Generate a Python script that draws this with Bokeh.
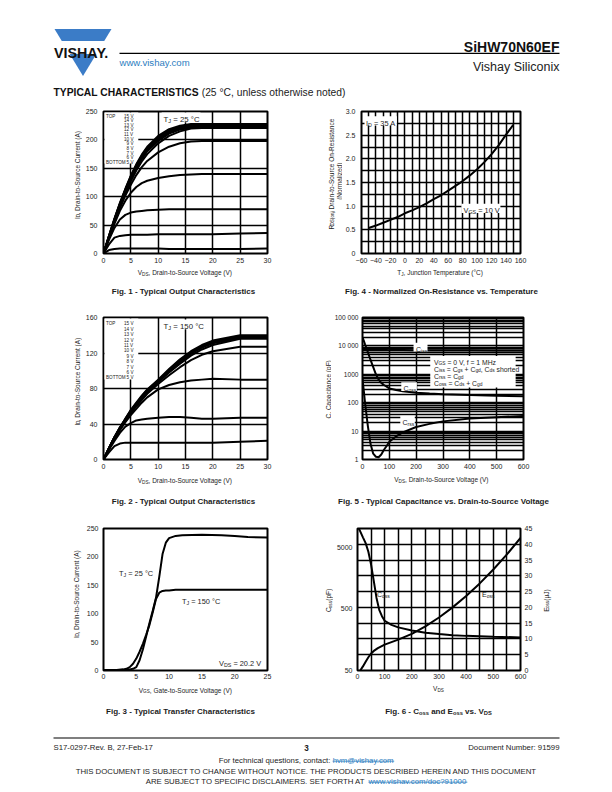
import math
import re
from bokeh.plotting import figure
from bokeh.layouts import column, row
from bokeh.models import (Range1d, Label, BoxAnnotation, FixedTicker, LogAxis, LogScale,
                          CustomJSTickFormatter)
from bokeh.core.properties import value
from bokeh.embed import file_html
from bokeh.resources import INLINE

# ======================= DATA =======================
vgs_legend = ["15 V", "14 V", "13 V", "12 V", "11 V", "10 V", "9 V", "8 V", "7 V", "6 V", "5 V"]

# Fig. 1 - output characteristics, TJ = 25 C
vds_fig1 = [0, 1, 2, 3, 4, 5, 6, 7, 8, 10, 12, 14, 16, 18, 20, 25, 30]
id1_15v = [0, 31, 61, 89, 114, 137, 157, 174, 188, 207, 219, 225, 228, 228, 228, 228, 228]
id1_14v = [0, 31, 61, 88, 113, 136, 156, 172, 186, 205, 217, 223, 226, 227, 227, 227, 227]
id1_13v = [0, 30, 60, 87, 112, 135, 154, 170, 184, 203, 215, 221, 225, 226, 226, 226, 226]
id1_12v = [0, 30, 59, 86, 111, 133, 152, 168, 182, 201, 213, 220, 224, 225, 225, 225, 225]
id1_11v = [0, 30, 58, 85, 109, 131, 150, 166, 180, 198, 211, 218, 222, 223, 223, 223, 223]
id1_10v = [0, 29, 57, 83, 106, 127, 146, 162, 175, 194, 207, 215, 220, 221, 221, 221, 221]
id1_9v = [0, 28, 55, 80, 102, 121, 138, 152, 163, 178, 188, 194, 197, 198, 198, 198, 198]
id1_8v = [0, 27, 52, 75, 93, 107, 117, 124, 128, 133, 136, 138, 139, 140, 140, 140, 140]
id1_7v = [0, 24, 45, 60, 68, 72, 74, 75, 76, 77, 78, 78, 78, 78, 78, 78, 78]
id1_6v = [0, 16, 28, 31, 32, 33, 33, 33, 33, 34, 34, 34, 34, 34, 34, 35, 36]
id1_5v = [0, 6, 8, 9, 9, 9, 9, 9, 9, 9, 8, 8, 8, 8, 8, 8, 9]
fig1_xticks = [0, 5, 10, 15, 20, 25, 30]
fig1_yticks = [0, 50, 100, 150, 200, 250]

# Fig. 2 - output characteristics, TJ = 150 C
vds_fig2 = [0, 1, 2, 3, 4, 5, 6, 7, 8, 10, 12, 14, 16, 18, 20, 25, 30]
id2_15v = [0, 13, 25, 36, 46, 56, 64, 72, 79, 90, 102, 113, 122, 129, 134, 140, 140]
id2_14v = [0, 13, 25, 36, 46, 55, 63, 71, 78, 89, 101, 112, 121, 128, 133, 139, 139]
id2_13v = [0, 13, 25, 36, 45, 55, 63, 71, 78, 89, 100, 111, 120, 127, 132, 138, 138]
id2_12v = [0, 13, 25, 35, 45, 54, 62, 70, 77, 88, 99, 110, 119, 126, 131, 137, 137]
id2_11v = [0, 12, 24, 35, 44, 53, 61, 69, 76, 87, 98, 108, 117, 124, 129, 136, 136]
id2_10v = [0, 12, 24, 34, 43, 52, 60, 67, 74, 85, 95, 104, 112, 118, 122, 127, 127]
id2_9v = [0, 12, 23, 33, 42, 50, 57, 64, 70, 79, 84, 87, 89, 90, 91, 90, 90]
id2_8v = [0, 11, 21, 30, 37, 41, 44, 45, 46, 47, 48, 48, 47, 46, 46, 47, 47]
id2_7v = [0, 8, 15, 18, 19, 19, 19, 19, 19, 19, 19, 19, 19, 19, 19, 20, 21]
fig2_xticks = [0, 5, 10, 15, 20, 25, 30]
fig2_yticks = [0, 40, 80, 120, 160]

# Fig. 3 - transfer characteristics
vgs_fig3 = [0, 1, 2, 3, 3.5, 4, 4.5, 5, 5.5, 6, 6.5, 7, 7.5, 8, 8.5, 9, 9.5, 10, 11, 12, 15, 18, 20, 22, 25]
id3_25c = [1, 1, 1, 1, 1, 2, 3, 6, 18, 37, 60, 83, 105, 128, 165, 205, 225, 233, 237, 238, 239, 238, 237, 235, 234]
id3_150c = [1, 1, 1, 2, 3, 6, 12, 21, 33, 47, 63, 80, 102, 126, 137, 140, 141, 141, 142, 142, 142, 142, 142, 142, 142]
fig3_xticks = [0, 5, 10, 15, 20, 25]
fig3_yticks = [0, 50, 100, 150, 200, 250]

# Fig. 4 - normalized on-resistance vs temperature
tj_fig4 = [-50, -40, -30, -20, -10, 0, 10, 20, 30, 40, 50, 60, 70, 80, 90, 100, 110, 120, 130, 140, 150]
rds_fig4 = [0.54, 0.59, 0.65, 0.71, 0.77, 0.85, 0.91, 0.98, 1.06, 1.15, 1.23, 1.33, 1.43, 1.53,
            1.65, 1.78, 1.93, 2.10, 2.29, 2.51, 2.72]
fig4_xticks = [-60, -40, -20, 0, 20, 40, 60, 80, 100, 120, 140, 160]
fig4_xminor = [-50, -30, -10, 10, 30, 50, 70, 90, 110, 130, 150]
fig4_yticks = [0, 0.5, 1.0, 1.5, 2.0, 2.5, 3.0]
fig4_yminor = [0.25, 0.75, 1.25, 1.75, 2.25, 2.75]

# Fig. 5 - capacitance vs VDS
vds_fig5 = [0, 5, 10, 20, 30, 40, 50, 60, 70, 80, 90, 100, 125, 150, 200, 250, 300, 400, 500, 600]
ciss_fig5 = [7800, 7700, 7600, 7500, 7400, 7300, 7300, 7200, 7200, 7200, 7200, 7100, 7100, 7100,
             7000, 7000, 7000, 7000, 6900, 6900]
coss_fig5 = [20000, 15000, 11000, 6000, 3200, 1800, 1000, 650, 500, 420, 370, 320, 280, 255, 225,
             210, 200, 185, 175, 168]
crss_fig5 = [700, 250, 90, 15, 3.5, 1.6, 1.25, 1.2, 1.5, 2.2, 3.0, 4.2, 6.5, 9, 14, 18, 22, 28, 31, 34]
fig5_xticks = [0, 100, 200, 300, 400, 500, 600]
fig5_yticks = [1, 10, 100, 1000, 10000, 100000]
fig5_yminor = [m * d for d in [1, 10, 100, 1000, 10000] for m in [2, 3, 4, 5, 6, 7, 8, 9]]

# Fig. 6 - Coss and Eoss vs VDS
vds_fig6_c = [5, 10, 20, 30, 40, 50, 60, 70, 80, 90, 100, 125, 150, 200, 250, 300, 350, 400, 500, 600]
coss_fig6 = [10000, 9000, 7200, 5800, 4200, 2600, 1400, 750, 480, 380, 320, 275, 250, 222, 205, 195,
             187, 182, 176, 172]
vds_fig6_e = [10, 20, 30, 40, 50, 60, 75, 100, 150, 200, 250, 300, 350, 400, 450, 500, 550, 600]
eoss_fig6 = [0, 1.3, 2.8, 4.2, 5.4, 6.2, 7.1, 8.2, 9.8, 11.6, 14.0, 16.8, 20.0, 23.6, 27.6, 32.0, 36.8, 42.0]
fig6_xticks = [0, 100, 200, 300, 400, 500, 600]
fig6_xminor = [50, 150, 250, 350, 450, 550]
fig6_eticks = [0, 5, 10, 15, 20, 25, 30, 35, 40, 45]
fig6_cticks = [50, 500, 5000]

# page texts
part_number = "SiHW70N60EF"
company = "Vishay Siliconix"
website = "www.vishay.com"
section_bold = "TYPICAL CHARACTERISTICS"
section_rest = "(25 °C, unless otherwise noted)"
captions = [
    "Fig. 1 - Typical Output Characteristics",
    "Fig. 4 - Normalized On-Resistance vs. Temperature",
    "Fig. 2 - Typical Output Characteristics",
    "Fig. 5 - Typical Capacitance vs. Drain-to-Source Voltage",
    "Fig. 3 - Typical Transfer Characteristics",
    "Fig. 6 - C_{oss} and E_{oss} vs. V_{DS}",
]
footer_left = "S17-0297-Rev. B, 27-Feb-17"
page_no = "3"
footer_right = "Document Number: 91599"
contact_txt = "For technical questions, contact: "
contact_mail = "hvm@vishay.com"
disclaimer1 = "THIS DOCUMENT IS SUBJECT TO CHANGE WITHOUT NOTICE. THE PRODUCTS DESCRIBED HEREIN AND THIS DOCUMENT"
disclaimer2 = "ARE SUBJECT TO SPECIFIC DISCLAIMERS, SET FORTH AT "
disclaimer_link = "www.vishay.com/doc?91000"

# ======================= STYLE / HELPERS =======================
FONT = "Liberation Sans"
INK = "#1c1c1c"
LOGO_BLUE = "#3b7cc7"
LINK = "#2c7dc0"

REG = {}
for ch, w in zip("ABCDEFGHIJKLMNOPQRSTUVWXYZ",
                 [667, 667, 722, 722, 667, 611, 778, 722, 278, 500, 667, 556, 833, 722, 778, 667, 778,
                  722, 667, 611, 722, 667, 944, 667, 667, 611]):
    REG[ch] = w
for ch, w in zip("abcdefghijklmnopqrstuvwxyz",
                 [556, 556, 500, 556, 556, 278, 556, 556, 222, 222, 500, 222, 833, 556, 556, 556, 556,
                  333, 500, 278, 556, 500, 722, 500, 500, 500]):
    REG[ch] = w
for ch in "0123456789":
    REG[ch] = 556
REG.update({" ": 278, ".": 278, ",": 278, "-": 333, "(": 333, ")": 333, "=": 584, "+": 584,
            ":": 278, "/": 278, "?": 556, "@": 1015, "°": 400, "µ": 556})
BOLD = dict(REG)
for ch, w in zip("ABCDEFGHIJKLMNOPQRSTUVWXYZ",
                 [722, 722, 722, 722, 667, 611, 778, 722, 278, 556, 722, 611, 833, 722, 778, 667, 778,
                  722, 667, 611, 722, 667, 944, 667, 667, 611]):
    BOLD[ch] = w
for ch, w in zip("abcdefghijklmnopqrstuvwxyz",
                 [556, 611, 556, 611, 556, 333, 611, 611, 278, 278, 556, 278, 889, 611, 611, 611, 611,
                  389, 556, 333, 611, 556, 778, 556, 556, 500]):
    BOLD[ch] = w
BOLD[":"] = 333


def tw(s, size, bold=False):
    t = BOLD if bold else REG
    return sum(t.get(c, 556) for c in s) * size / 1000.0


def parse(s):
    parts, i = [], 0
    for m in re.finditer(r"_\{([^}]*)\}", s):
        if m.start() > i:
            parts.append((s[i:m.start()], False))
        parts.append((m.group(1), True))
        i = m.end()
    if i < len(s):
        parts.append((s[i:], False))
    return parts


def runs(s, size, bold):
    out, cur = [], 0.0
    for t, sub in parse(s):
        fs = size * 0.72 if sub else size
        dn = size * 0.25 if sub else 0.0
        lead = len(t) - len(t.lstrip(" "))
        out.append((cur + tw(" " * lead, fs, bold), dn, t.strip(" "), fs))
        cur += tw(t, fs, bold)
    return out, cur


def chart(ox, oy, w, h, frame, xr, yr, **kw):
    l, t, r, b = frame
    p = figure(width=w, height=h, x_range=Range1d(*xr), y_range=Range1d(*yr),
               toolbar_location=None, output_backend="svg", title=None,
               min_border_left=int(l - ox), min_border_right=int(ox + w - r),
               min_border_top=int(t - oy), min_border_bottom=int(oy + h - b), **kw)
    p.outline_line_color = "black"
    p.outline_line_width = 2
    p.background_fill_color = "white"
    p.border_fill_color = "white"
    return dict(fig=p, frame=frame, xr=xr, yr=yr, ylog=(kw.get("y_axis_type") == "log"))


def style_axis(ax, stand, size="7px"):
    ax.axis_line_color = None
    ax.major_tick_line_color = None
    ax.minor_tick_line_color = None
    ax.major_tick_in = 0
    ax.major_tick_out = 0
    ax.minor_tick_in = 0
    ax.minor_tick_out = 0
    ax.major_label_text_font = FONT
    ax.major_label_text_font_size = size
    ax.major_label_text_color = INK
    ax.major_label_standoff = stand


def style_grid(p, minor=False):
    p.grid.grid_line_color = "black"
    p.grid.grid_line_width = 1.5
    p.grid.grid_line_alpha = 1
    if minor:
        p.grid.minor_grid_line_color = "black"
        p.grid.minor_grid_line_width = 1.5
        p.grid.minor_grid_line_alpha = 1


def to_data(c, X, Y):
    l, t, r, b = c["frame"]
    x0, x1 = c["xr"]
    y0, y1 = c["yr"]
    x = x0 + (X - l) / (r - l) * (x1 - x0)
    f = (b - Y) / (b - t)
    if c["ylog"]:
        y = 10 ** (math.log10(y0) + f * (math.log10(y1) - math.log10(y0)))
    else:
        y = y0 + f * (y1 - y0)
    return x, y


def white_box(c, X0, Y0, X1, Y1, level="underlay"):
    xa, ya = to_data(c, X0, Y1)
    xb, yb = to_data(c, X1, Y0)
    c["fig"].add_layout(BoxAnnotation(left=xa, right=xb, bottom=ya, top=yb, fill_color="white",
                                      fill_alpha=1, line_color=None, level=level))


def clabel(c, X, Y, s, size, align="left", bold=False, color=INK, bg=False, bg_level="underlay"):
    """Text inside a chart frame (page coordinates X, Y = baseline start)."""
    p = c["fig"]
    l, t, r, b = c["frame"]
    items, total = runs(s, size, bold)
    start = {"left": 0.0, "center": -total / 2, "right": -total}[align]
    if bg:
        white_box(c, X + start - 1.5, Y - size * 0.9, X + start + total + 1.5, Y + size * 0.35, bg_level)
    for off, dn, txt, fs in items:
        if not txt:
            continue
        p.add_layout(Label(x=X + start + off - l, y=b - (Y + dn), x_units="screen", y_units="screen",
                           text=txt, text_font=FONT, text_font_size=f"{fs:.2f}px",
                           text_font_style="bold" if bold else "normal", text_color=color,
                           text_align="left", text_baseline="alphabetic"))


def strip(x0, x1, y0, y1):
    p = figure(width=int(x1 - x0), height=int(y1 - y0), x_range=Range1d(x0, x1), y_range=Range1d(y1, y0),
               toolbar_location=None, output_backend="svg", title=None, min_border=0,
               x_axis_location=None, y_axis_location=None)
    p.grid.visible = False
    p.outline_line_color = None
    p.background_fill_color = "white"
    p.border_fill_color = "white"
    return p


def pdraw(p, x, y, txt, fs, bold, color, angle=0.0, align="left"):
    p.text(x=[x], y=[y], text=[txt], text_font=value(FONT), text_font_size=f"{fs:.2f}px",
           text_font_style="bold" if bold else "normal", text_color=color, angle=angle,
           text_align=align, text_baseline="alphabetic")


def ptext(p, X, Y, s, size, align="left", bold=False, color=INK, vertical=False):
    items, total = runs(s, size, bold)
    ang = math.pi / 2 if vertical else 0.0
    if len(items) == 1 and items[0][0] == 0:
        pdraw(p, X, Y, items[0][2], size, bold, color, ang, align)
        return
    start = {"left": 0.0, "center": -total / 2, "right": -total}[align]
    for off, dn, txt, fs in items:
        if not txt:
            continue
        a = start + off
        if vertical:
            pdraw(p, X + dn, Y - a, txt, fs, bold, color, ang)
        else:
            pdraw(p, X + a, Y + dn, txt, fs, bold, color)


def pline(p, X, Y, segs, size, align="center"):
    total = sum(tw(t, size, b) for t, col, b, u in segs)
    x = {"left": X, "center": X - total / 2, "right": X - total}[align]
    for t, col, b, u in segs:
        w = tw(t, size, b)
        pdraw(p, x, Y, t.strip(" "), size, b, col)
        if u:
            p.line([x, x + tw(t.rstrip(" "), size, b)], [Y + 1.2, Y + 1.2], line_color=col, line_width=0.8)
        x += w


def legend_block(c, xl, xr, y0, dy, size=4.6):
    n = len(vgs_legend)
    for i, lab in enumerate(vgs_legend):
        y = y0 + i * dy
        if i == 0:
            clabel(c, xl, y, "TOP", size)
        if i == n - 1:
            clabel(c, xl, y, "BOTTOM", size)
        clabel(c, xr, y, lab, size, align="right")


# ======================= HEADER (page y 0..100) =======================
hd = strip(0, 604, 0, 100)
hd.patch(x=[54, 111, 82.5], y=[28.5, 28.5, 75.5], fill_color=LOGO_BLUE, line_color=None)
hd.quad(left=[50], right=[115], top=[40.5], bottom=[53.5], fill_color="white", line_color=None)
pdraw(hd, 53.5, 52.3, "VISHAY.", 14.3, True, "#111111")
hd.line([119, 559], [52.8, 52.8], line_color="black", line_width=1.3)
ptext(hd, 559, 46.8, part_number, 14, align="right", bold=True, color="#111111")
ptext(hd, 559, 66.5, company, 12.5, align="right", color="#222222")
ptext(hd, 119, 62.3, website, 9.6, color=LINK)
pdraw(hd, 53, 91.5, section_bold, 10.3, True, "#111111")
pdraw(hd, 53 + tw(section_bold + " ", 10.3, True), 91.5, section_rest, 10.3, False, "#222222")

# ======================= ROW 1 (page y 100..267) =======================
L1 = strip(0, 82, 100, 267)
ptext(L1, 76.5, 182, "I_{D}, Drain-to-Source Current (A)", 6.5, align="center", vertical=True)

c1 = chart(82, 100, 224, 167, (102, 111, 267, 253), (0, 30), (0, 250))
p1 = c1["fig"]
p1.xaxis.ticker = FixedTicker(ticks=fig1_xticks)
p1.yaxis.ticker = FixedTicker(ticks=fig1_yticks)
for ax in p1.xaxis:
    style_axis(ax, 4)
for ax in p1.yaxis:
    style_axis(ax, 6)
style_grid(p1)
white_box(c1, 103, 112, 137, 163)
for ys in [id1_5v, id1_6v, id1_7v, id1_8v, id1_9v, id1_10v, id1_11v, id1_12v, id1_13v, id1_14v, id1_15v]:
    p1.line(vds_fig1, ys, line_color="black", line_width=2)
legend_block(c1, 104.5, 132, 115.5, 4.65)
clabel(c1, 162, 119, "T_{J} = 25 °C", 7.8, bg=True)

M1 = strip(306, 342, 100, 267)
ptext(M1, 330.5, 182, "R_{DS(on)}, Drain-to-Source On-Resistance", 6.5, align="center", vertical=True)
ptext(M1, 338.5, 182, "(Normalized)", 6.5, align="center", vertical=True)

c4 = chart(342, 100, 262, 167, (360, 111, 520, 253), (-60, 160), (0, 3.0))
p4 = c4["fig"]
p4.xaxis.ticker = FixedTicker(ticks=fig4_xticks, minor_ticks=fig4_xminor)
p4.yaxis.ticker = FixedTicker(ticks=fig4_yticks, minor_ticks=fig4_yminor)
p4.yaxis.formatter = CustomJSTickFormatter(code="return tick == 0 ? '0' : tick.toFixed(1);")
for ax in p4.xaxis:
    style_axis(ax, 4)
for ax in p4.yaxis:
    style_axis(ax, 6)
style_grid(p4, minor=True)
p4.line(tj_fig4, rds_fig4, line_color="black", line_width=2)
clabel(c4, 364.5, 122.5, "I_{D} = 35 A", 7.4, bg=True)
clabel(c4, 462, 210, "V_{GS} = 10 V", 7.4, bg=True)

U1 = strip(0, 604, 267, 300)
ptext(U1, 184.5, 272, "V_{DS}, Drain-to-Source Voltage (V)", 6.5, align="center")
ptext(U1, 440, 272, "T_{J}, Junction Temperature (°C)", 6.5, align="center")
ptext(U1, 183, 291, captions[0], 8, align="center", bold=True)
ptext(U1, 441, 291, captions[1], 8, align="center", bold=True)

# ======================= ROW 2 (page y 300..474) =======================
L2 = strip(0, 82, 300, 474)
ptext(L2, 76.5, 388, "I_{D}, Drain-to-Source Current (A)", 6.5, align="center", vertical=True)

c2 = chart(82, 300, 224, 174, (102, 317, 267, 459), (0, 30), (0, 160))
p2 = c2["fig"]
p2.xaxis.ticker = FixedTicker(ticks=fig2_xticks)
p2.yaxis.ticker = FixedTicker(ticks=fig2_yticks)
for ax in p2.xaxis:
    style_axis(ax, 4)
for ax in p2.yaxis:
    style_axis(ax, 6)
style_grid(p2)
white_box(c2, 103, 318, 137, 379)
for ys in [id2_7v, id2_8v, id2_9v, id2_10v, id2_11v, id2_12v, id2_13v, id2_14v, id2_15v]:
    p2.line(vds_fig2, ys, line_color="black", line_width=2)
legend_block(c2, 104.5, 132, 323.3, 5.4)
clabel(c2, 162, 326, "T_{J} = 150 °C", 7.8, bg=True)

M2 = strip(306, 331, 300, 474)
ptext(M2, 327.8, 388, "C, Capacitance (pF)", 6.5, align="center", vertical=True)

c5 = chart(331, 300, 273, 174, (359, 317, 523, 459), (0, 600), (1, 100000), y_axis_type="log")
p5 = c5["fig"]
p5.xaxis.ticker = FixedTicker(ticks=fig5_xticks)
p5.yaxis.ticker = FixedTicker(ticks=fig5_yticks, minor_ticks=fig5_yminor)
p5.yaxis.formatter = CustomJSTickFormatter(
    code="var s = Math.round(tick).toString(); return s.length > 4 ? s.slice(0, s.length - 3) + ' ' + s.slice(-3) : s;")
for ax in p5.xaxis:
    style_axis(ax, 4)
for ax in p5.yaxis:
    style_axis(ax, 4, "6.6px")
style_grid(p5, minor=True)
white_box(c5, 428, 355.5, 515, 387)
p5.line(vds_fig5, ciss_fig5, line_color="black", line_width=2)
p5.line(vds_fig5, coss_fig5, line_color="black", line_width=2)
p5.line(vds_fig5, crss_fig5, line_color="black", line_width=2)
clabel(c5, 412.5, 348.5, "C_{iss}", 7, bg=True, bg_level="annotation")
clabel(c5, 400, 388, "C_{oss}", 7, bg=True, bg_level="annotation")
clabel(c5, 399, 421.5, "C_{rss}", 7, bg=True, bg_level="annotation")
legend5 = ["V_{GS} = 0 V, f = 1 MHz", "C_{iss} = C_{gs} + C_{gd}, C_{ds} shorted",
           "C_{rss} = C_{gd}", "C_{oss} = C_{ds} + C_{gd}"]
for i, s in enumerate(legend5):
    clabel(c5, 430.5, 361.5 + i * 7.0, s, 6.8)

U2 = strip(0, 604, 474, 510)
ptext(U2, 184.5, 480, "V_{DS}, Drain-to-Source Voltage (V)", 6.5, align="center")
ptext(U2, 441, 479, "V_{DS}, Drain-to-Source Voltage (V)", 6.5, align="center")
ptext(U2, 183, 500.5, captions[2], 8, align="center", bold=True)
ptext(U2, 443, 500.5, captions[3], 8, align="center", bold=True)

# ======================= ROW 3 (page y 510..683) =======================
L3 = strip(0, 82, 510, 683)
ptext(L3, 75.8, 599, "I_{D}, Drain-to-Source Current (A)", 6.5, align="center", vertical=True)

c3 = chart(82, 510, 224, 173, (103, 528, 267, 670), (0, 25), (0, 250))
p3 = c3["fig"]
p3.xaxis.ticker = FixedTicker(ticks=fig3_xticks)
p3.yaxis.ticker = FixedTicker(ticks=fig3_yticks)
for ax in p3.xaxis:
    style_axis(ax, 3)
for ax in p3.yaxis:
    style_axis(ax, 5)
p3.grid.visible = False
p3.line(vgs_fig3, id3_25c, line_color="black", line_width=2)
p3.line(vgs_fig3, id3_150c, line_color="black", line_width=2)
clabel(c3, 118.5, 572.5, "T_{J} = 25 °C", 7.4)
clabel(c3, 181.5, 600.5, "T_{J} = 150 °C", 7.4)
clabel(c3, 218.5, 662.5, "V_{DS} = 20.2 V", 7.4)

M3 = strip(306, 333, 510, 683)
ptext(M3, 328.3, 599, "C_{oss} (pF)", 6.5, align="center", vertical=True)

c6 = chart(333, 510, 202, 173, (355, 528, 521, 670), (0, 600), (0, 45), y_axis_location="right")
p6 = c6["fig"]
eaxis = p6.right[0]
p6.extra_y_ranges = {"coss": Range1d(50, 10000)}
p6.extra_y_scales = {"coss": LogScale()}
caxis = LogAxis(y_range_name="coss", ticker=FixedTicker(ticks=fig6_cticks),
                formatter=CustomJSTickFormatter(code="return Math.round(tick).toString();"))
p6.add_layout(caxis, "left")
p6.xaxis.ticker = FixedTicker(ticks=fig6_xticks, minor_ticks=fig6_xminor)
eaxis.ticker = FixedTicker(ticks=fig6_eticks)
for ax in p6.xaxis:
    style_axis(ax, 3)
style_axis(eaxis, 4)
style_axis(caxis, 5)
style_grid(p6, minor=True)
p6.line(vds_fig6_c, coss_fig6, y_range_name="coss", line_color="black", line_width=2)
p6.line(vds_fig6_e, eoss_fig6, line_color="black", line_width=2)
clabel(c6, 374.5, 593.5, "C_{oss}", 7)
clabel(c6, 479.5, 594, "E_{oss}", 7)

R3 = strip(535, 604, 510, 683)
ptext(R3, 545.5, 599, "E_{oss} (µJ)", 6.5, align="center", vertical=True)

U3 = strip(0, 604, 683, 720)
ptext(U3, 185, 689.5, "V_{GS}, Gate-to-Source Voltage (V)", 6.5, align="center")
ptext(U3, 438, 688, "V_{DS}", 6.5, align="center")
ptext(U3, 180, 710.5, captions[4], 8, align="center", bold=True)
ptext(U3, 438, 710.5, captions[5], 8, align="center", bold=True)

# ======================= FOOTER (page y 720..784) =======================
ft = strip(0, 604, 720, 784)
ft.line([53, 559], [737.5, 737.5], line_color="black", line_width=1.2)
fsz = 100.0 / tw(footer_left, 1.0)
ptext(ft, 53, 746.5, footer_left, fsz)
ptext(ft, 306, 747, page_no, 8.2, align="center", bold=True)
ptext(ft, 559, 746.5, footer_right, fsz, align="right")
pline(ft, 306, 759.5, [(contact_txt, INK, False, False), (contact_mail, LINK, False, True)], fsz)
dsz = 462.0 / tw(disclaimer1, 1.0)
ptext(ft, 306, 770.5, disclaimer1, dsz, align="center")
pline(ft, 306, 780.5, [(disclaimer2, INK, False, False), (disclaimer_link, LINK, False, True)], dsz)

page = column(
    hd,
    row(L1, c1["fig"], M1, c4["fig"]),
    U1,
    row(L2, c2["fig"], M2, c5["fig"]),
    U2,
    row(L3, c3["fig"], M3, c6["fig"], R3),
    U3,
    ft,
)

open("out.html", "w", encoding="utf-8").write(file_html(page, INLINE, title="SiHW70N60EF"))
